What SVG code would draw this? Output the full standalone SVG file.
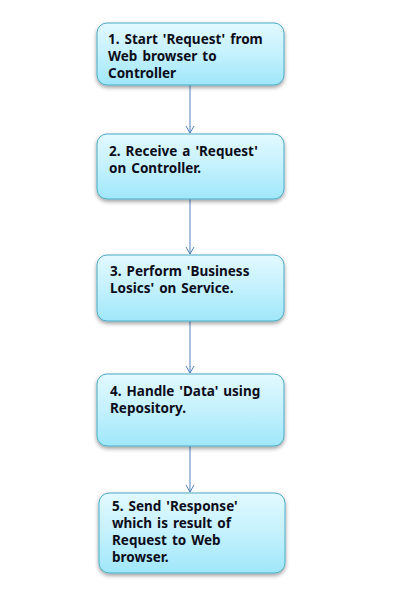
<svg xmlns="http://www.w3.org/2000/svg" width="401" height="602" viewBox="0 0 401 602">
<defs>
<linearGradient id="g" x1="0" y1="0" x2="0" y2="1">
<stop offset="0" stop-color="#e2f9ff"/>
<stop offset="0.5" stop-color="#c4f1fd"/>
<stop offset="1" stop-color="#9fe7fa"/>
</linearGradient>
<filter id="sh" x="-10%" y="-10%" width="120%" height="130%">
<feGaussianBlur in="SourceAlpha" stdDeviation="2"/>
<feOffset dx="0" dy="2" result="b"/>
<feComponentTransfer><feFuncA type="linear" slope="0.4"/></feComponentTransfer>
<feMerge><feMergeNode/><feMergeNode in="SourceGraphic"/></feMerge>
</filter>
<marker id="ah" markerWidth="10" markerHeight="10" refX="9" refY="5" orient="auto" markerUnits="userSpaceOnUse">
<path d="M2,1 L9,5 L2,9" fill="none" stroke="#4f81bd" stroke-width="1"/>
</marker>
</defs>
<style>
.box{fill:url(#g);stroke:#4bacc6;stroke-width:1;filter:url(#sh)}
.t{font-family:"Noto Sans","Liberation Sans",Arial,sans-serif;font-weight:bold;font-size:13.5px;word-spacing:1.5px;fill:#0d0d1a}
.c{stroke:#4f81bd;stroke-width:1;fill:none;marker-end:url(#ah)}
</style>
<rect width="401" height="602" fill="#fff"/>
<g id="connectors">
<line class="c" x1="190" y1="85" x2="190" y2="133"/>
<line class="c" x1="190" y1="199" x2="190" y2="254"/>
<line class="c" x1="190" y1="321" x2="190" y2="373"/>
<line class="c" x1="190" y1="446" x2="190" y2="492"/>
</g>
<g id="n1">
<rect class="box" x="97" y="23" width="187" height="62" rx="10"/>
<text class="t"><tspan x="108" y="44">1. Start 'Request' from</tspan><tspan x="108" y="61">Web browser to</tspan><tspan x="108" y="78">Controller</tspan></text>
</g>
<g id="n2">
<rect class="box" x="97" y="134" width="187" height="65" rx="10"/>
<text class="t"><tspan x="109" y="156">2. Receive a 'Request'</tspan><tspan x="109" y="173">on Controller.</tspan></text>
</g>
<g id="n3">
<rect class="box" x="97" y="255" width="187" height="66" rx="10"/>
<text class="t"><tspan x="110" y="276">3. Perform 'Business</tspan><tspan x="110" y="293">Losics' on Service.</tspan></text>
</g>
<g id="n4">
<rect class="box" x="97" y="374" width="187" height="72" rx="10"/>
<text class="t"><tspan x="110" y="396">4. Handle 'Data' using</tspan><tspan x="110" y="413">Repository.</tspan></text>
</g>
<g id="n5">
<rect class="box" x="99" y="493" width="186" height="80" rx="10"/>
<text class="t"><tspan x="112" y="511">5. Send 'Response'</tspan><tspan x="112" y="528">which is result of</tspan><tspan x="112" y="545">Request to Web</tspan><tspan x="112" y="562">browser.</tspan></text>
</g>
</svg>
